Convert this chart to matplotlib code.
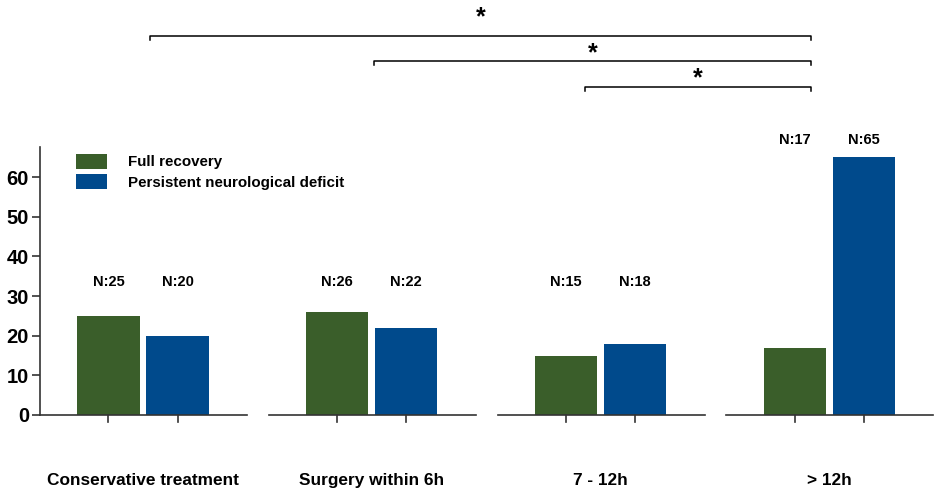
import numpy as np
import matplotlib.pyplot as plt
from matplotlib.patches import Patch

plt.rcParams['font.family'] = ['Liberation Sans', 'DejaVu Sans']
plt.rcParams['font.weight'] = 'bold'

# data
groups = ['Conservative treatment', 'Surgery within 6h', '7 - 12h', '> 12h']
full_recovery = [25, 26, 15, 17]
persistent_deficit = [20, 22, 18, 65]
series_names = ['Full recovery', 'Persistent neurological deficit']
label_heights = [33.5, 33.5, 33.5, 69.3]
# significance brackets: (start, end, bracket level, star level)
brackets = [(0.03, 2.92, 95.5, 100.3), (1.01, 2.92, 89.2, 91.3), (1.93, 2.92, 82.7, 85.0)]

green = '#3a5e2a'
blue = '#004a8c'
axis_col = '#333333'

fig = plt.figure(figsize=(9.35, 4.92), dpi=100)
ax = fig.add_axes([40 / 935, 1 - 415 / 492, 890 / 935, 268 / 492])

x = np.arange(len(groups))
bw = 0.272
off = 0.151
ax.bar(x - off, full_recovery, bw, color=green, edgecolor='none')
ax.bar(x + off, persistent_deficit, bw, color=blue, edgecolor='none')

for i in range(len(groups)):
    ax.text(x[i] - off, label_heights[i], f'N:{full_recovery[i]}', ha='center', va='center',
            fontsize=10.5, fontweight='bold')
    ax.text(x[i] + off, label_heights[i], f'N:{persistent_deficit[i]}', ha='center', va='center',
            fontsize=10.5, fontweight='bold')

ax.set_xlim(-0.45, 3.44)
ax.set_ylim(0, 67.6)
ax.set_yticks(np.arange(0, 61, 10))
ax.tick_params(axis='y', labelsize=14.5, length=6, width=1.2, color=axis_col, pad=2)
for lab in ax.get_yticklabels():
    lab.set_fontweight('bold')
ax.set_xticks([])
for s in ['top', 'right', 'bottom']:
    ax.spines[s].set_visible(False)
ax.spines['left'].set_color(axis_col)
ax.spines['left'].set_linewidth(1.2)

# broken x axis, one segment per group, with ticks under the bars
for i in range(len(groups)):
    ax.plot([x[i] - 0.45, x[i] + 0.455], [0, 0], color=axis_col, lw=1.2, clip_on=False)
    for dx in (-off, off):
        ax.plot([x[i] + dx, x[i] + dx], [0, -1.8], color=axis_col, lw=1.2, clip_on=False)
    ax.text(x[i], -16.4, groups[i], ha='center', va='center', fontsize=12.4, fontweight='bold')

# significance brackets
for x0, x1, y, ys in brackets:
    ax.plot([x0, x0, x1, x1], [y - 1.0, y, y, y - 1.0], color='black', lw=1.1, clip_on=False)
    ax.text((x0 + x1) / 2, ys, '*', ha='center', va='center', fontsize=18,
            fontweight='bold', clip_on=False)

handles = [Patch(facecolor=green), Patch(facecolor=blue)]
ax.legend(handles, series_names, loc='upper left', bbox_to_anchor=(0.041, 0.975),
          frameon=False, fontsize=10.9, handlelength=2.0, handleheight=1.15,
          handletextpad=1.4, labelspacing=0.3, borderpad=0, borderaxespad=0)

fig.savefig('out.png', dpi=100)
